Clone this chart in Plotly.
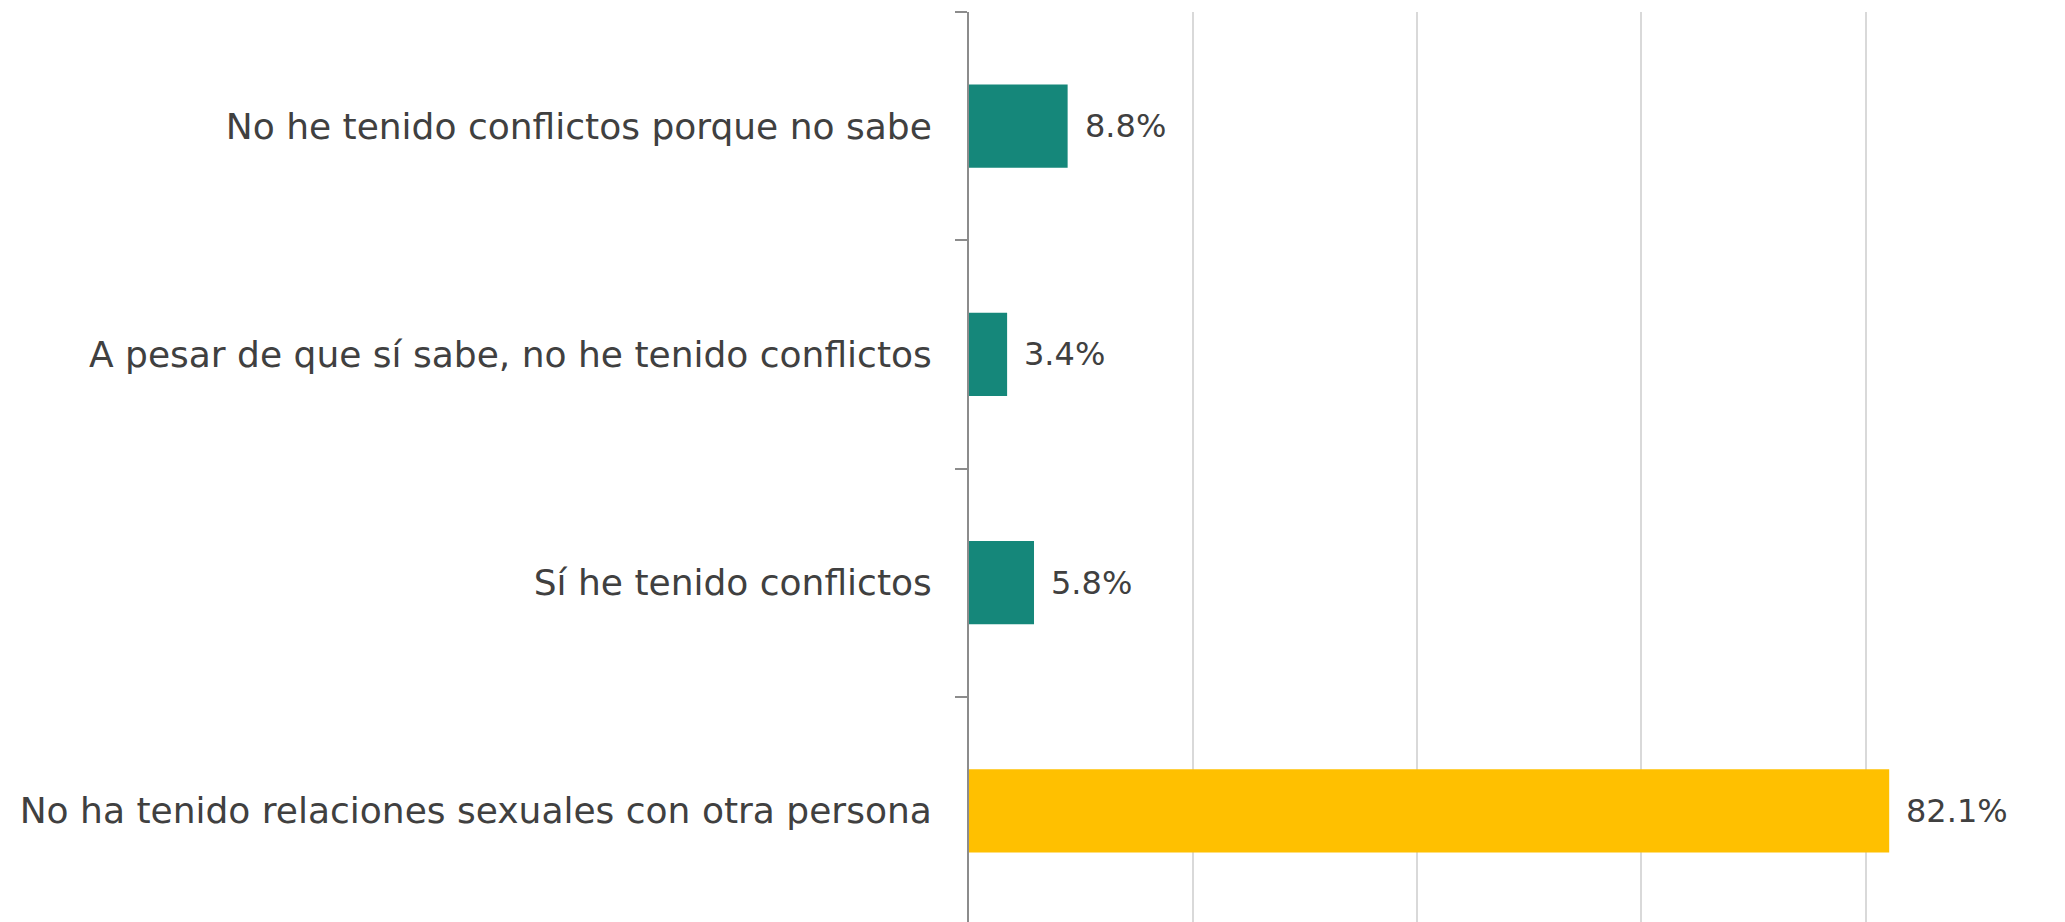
import plotly.graph_objects as go

categories = [
    "No he tenido conflictos porque no sabe",
    "A pesar de que sí sabe, no he tenido conflictos",
    "Sí he tenido conflictos",
    "No ha tenido relaciones sexuales con otra persona",
]
values = [8.8, 3.4, 5.8, 82.1]
labels = ["8.8%", "3.4%", "5.8%", "82.1%"]
colors = ["#15877A", "#15877A", "#15877A", "#FFC000"]

FONT = "Century Gothic, DejaVu Sans, sans-serif"

fig = go.Figure(
    go.Bar(
        x=values,
        y=categories,
        orientation="h",
        marker=dict(color=colors, line=dict(width=0)),
        hoverinfo="x+y",
    )
)

for v, c, t in zip(values, categories, labels):
    fig.add_annotation(
        x=v, y=c, text=t, showarrow=False,
        xanchor="left", yanchor="middle", xshift=15,
        font=dict(family=FONT, size=32, color="#404040"),
    )

fig.update_layout(
    width=2065,
    height=922,
    margin=dict(l=961, r=0, t=4, b=5),
    plot_bgcolor="white",
    paper_bgcolor="white",
    bargap=0.635,
    showlegend=False,
    font=dict(family=FONT, color="#404040"),
)
fig.update_xaxes(
    range=[0, 98.5],
    tickvals=[20, 40, 60, 80],
    showticklabels=False,
    showgrid=True,
    gridcolor="#D9D9D9",
    gridwidth=2,
    zeroline=False,
    showline=False,
)
fig.update_yaxes(
    autorange="reversed",
    showline=True,
    linecolor="#8C8C8C",
    linewidth=2,
    ticks="outside",
    tickson="boundaries",
    ticklen=12,
    tickcolor="#8C8C8C",
    tickwidth=2,
    tickfont=dict(family=FONT, size=36, color="#404040"),
    ticklabelstandoff=28,
    showgrid=False,
)

fig.write_html("out.html")
